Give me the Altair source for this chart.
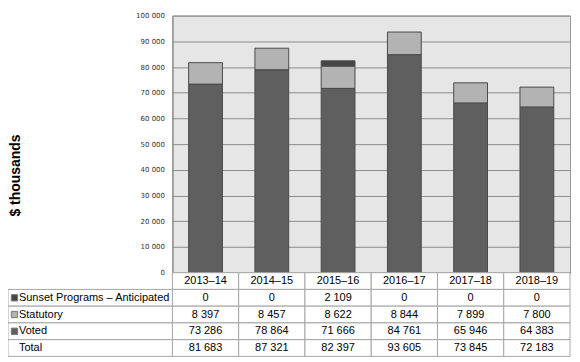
import json
import altair as alt
import pandas as pd

# ---- data ----
years = ["2013–14", "2014–15", "2015–16", "2016–17", "2017–18", "2018–19"]
series = ["Sunset Programs – Anticipated", "Statutory", "Voted"]
sunset = [0, 0, 2109, 0, 0, 0]
statutory = [8397, 8457, 8622, 8844, 7899, 7800]
voted = [73286, 78864, 71666, 84761, 65946, 64383]
total = [81683, 87321, 82397, 93605, 73845, 72183]
total_label = "Total"
header_row = "Year"
y_ticks = list(range(0, 100001, 10000))

colors = ["#454545", "#b3b3b3", "#5f5f5f"]

by_series = {series[0]: sunset, series[1]: statutory, series[2]: voted}
row_labels = series + [total_label]
table_rows = [header_row] + row_labels
table_vals = dict(by_series)
table_vals[total_label] = total


def fmt(v):
    return f"{v:,}".replace(",", " ")


bar_df = pd.DataFrame(
    [{"year": y, "series": s, "value": by_series[s][i]}
     for s in series for i, y in enumerate(years)]
)
cell_df = pd.DataFrame(
    [{"year": y, "row": header_row, "text": y} for y in years]
    + [{"year": y, "row": r, "text": fmt(table_vals[r][i])}
       for r in row_labels for i, y in enumerate(years)]
)
label_df = pd.DataFrame({"row": row_labels, "label": row_labels})
swatch_df = pd.DataFrame({"row": series, "series": series})

# ---- shared encodings ----
FONT = "Liberation Sans"
x_enc = alt.X("year:N", sort=years,
              scale=alt.Scale(domain=years, paddingInner=0, paddingOuter=0),
              axis=None)
row_scale = alt.Scale(domain=table_rows, range=[258, 342],
                      paddingInner=0, paddingOuter=0)
y_row = alt.Y("row:N", scale=row_scale, axis=None)
color_enc = alt.Color("series:N", scale=alt.Scale(domain=series, range=colors),
                      legend=None)

stack_order = json.dumps(series[::-1], ensure_ascii=False)

bars = alt.Chart(bar_df).transform_filter(
    "datum.value > 0"
).transform_calculate(
    ord=f"indexof({stack_order}, datum.series)"
).mark_bar(
    width=alt.RelativeBandSize(0.51), stroke="#4a4a4a", strokeWidth=1
).encode(
    x=x_enc,
    y=alt.Y("value:Q", stack="zero",
            scale=alt.Scale(domain=[0, 100000], nice=False),
            axis=alt.Axis(
                values=y_ticks, title="$ thousands", titleFont=FONT,
                titleFontSize=14, titleFontWeight="bold", titleColor="black",
                titleAngle=270, titleX=-157, titleY=160, titleAlign="center",
                titleBaseline="middle", labelFont="DejaVu Sans", labelFontSize=7,
                labelColor="#333333", labelPadding=8, ticks=False,
                domainColor="#808080", gridColor="#8c8c8c", gridWidth=1,
                labelExpr="replace(format(datum.value, ','), ',', ' ')")),
    color=color_enc,
    order=alt.Order("ord:Q"),
)

year_cells = alt.Chart(cell_df).mark_rect(
    fill="white", stroke="#a6a6a6", strokeWidth=1
).encode(x=x_enc, y=y_row)

label_cells = alt.Chart(label_df).mark_rect(
    fill="white", stroke="#a6a6a6", strokeWidth=1
).encode(x=alt.value(-165), x2=alt.value(0), y=y_row)

cell_text = alt.Chart(cell_df).mark_text(
    font=FONT, fontSize=11, color="black", baseline="middle"
).encode(x=x_enc, y=y_row, text="text:N")

label_text = alt.Chart(label_df).mark_text(
    font=FONT, fontSize=11, color="black", baseline="middle", align="left"
).encode(x=alt.value(-154), y=y_row, text="label:N")

swatches = alt.Chart(swatch_df).mark_square(
    size=40, stroke="#777777", strokeWidth=1, opacity=1
).encode(x=alt.value(-158.5), y=y_row, color=color_enc)

chart = alt.layer(
    bars, year_cells, label_cells, cell_text, label_text, swatches
).resolve_scale(
    y="independent"
).properties(
    width=399, height=258,
    autosize=alt.AutoSizeParams(type="none"),
    padding={"left": 165, "top": 7, "right": 2, "bottom": 86},
).configure_view(
    fill="#e6e6e6", stroke="#9a9a9a"
)

chart.save("out.html", embed_options={"renderer": "svg", "actions": False})
